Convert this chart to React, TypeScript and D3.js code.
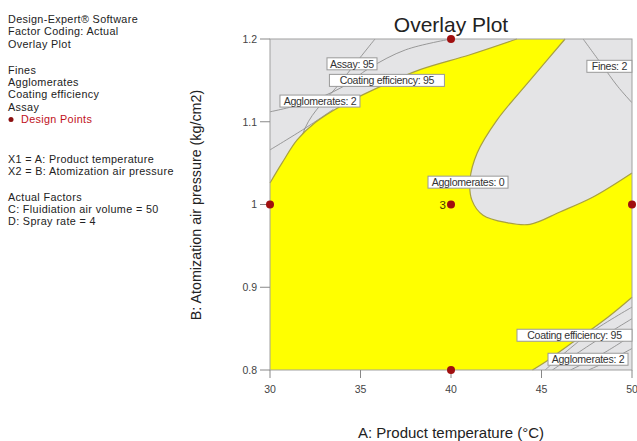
import React from 'react'
import * as d3 from 'd3'

// Overlay plot (Design-Expert style) - temperature vs atomization pressure

const xTicks = [30, 35, 40, 45, 50]
const yTicks = [0.8, 0.9, 1, 1.1, 1.2]

// yellow / grey boundaries, [temp, pressure]
const topLeftEdge = [
  [30, 1.026], [30.66, 1.05], [31.5, 1.078], [32.5, 1.099], [34, 1.12], [36.24, 1.144],
  [38.29, 1.163], [41.05, 1.181], [43.64, 1.2],
]
const ellipseEdge = [
  [46.3, 1.2], [44.36, 1.15], [42.54, 1.102], [41.44, 1.062], [41.05, 1.03],
  [41.16, 1.005], [41.77, 0.987], [43.09, 0.978], [44.36, 0.976], [46.02, 0.991],
  [47.85, 1.009], [50, 1.038],
]
const bottomRightEdge = [
  [44.5, 0.8], [45.5, 0.814], [46.5, 0.83], [47.5, 0.845], [48.5, 0.861], [49.3, 0.875], [50, 0.888],
]

// contour lines shown inside the grey (excluded) areas
const assayLine = [[31.2, 1.0], [31.93, 1.092], [33.87, 1.147], [35.8, 1.2]]
const agglomTopLine = [[30, 1.112], [32, 1.123], [34, 1.142], [35.5, 1.165], [37.5, 1.187], [40, 1.2]]
const extraTopLine = [[30, 1.066], [31.93, 1.092], [33.5, 1.115]]
const finesLine = [[47.3, 1.2], [48.3, 1.17], [49.2, 1.143], [50, 1.123]]
const brLine1 = [[45.2, 0.8], [47.5, 0.842], [50, 0.876]]
const brLine2 = [[45.6, 0.8], [48, 0.835], [50, 0.862]]
const brLine3 = [[46.6, 0.8], [48.4, 0.82], [50, 0.842]]
const brLine4 = [[47.6, 0.8], [48.8, 0.812], [50, 0.826]]

const contourLines = [assayLine, agglomTopLine, extraTopLine, finesLine, brLine1, brLine2, brLine3, brLine4]

const contourLabels = [
  { text: 'Assay: 95', t: 34.53, p: 1.17 },
  { text: 'Coating efficiency: 95', t: 36.46, p: 1.15 },
  { text: 'Agglomerates: 2', t: 32.76, p: 1.125 },
  { text: 'Fines: 2', t: 48.75, p: 1.167 },
  { text: 'Agglomerates: 0', t: 40.94, p: 1.027 },
  { text: 'Coating efficiency: 95', t: 46.9, p: 0.842 },
  { text: 'Agglomerates: 2', t: 47.57, p: 0.813 },
]

const designPoints = [
  [30, 1], [40, 1.2], [40, 1], [40, 0.8], [50, 1],
]

const infoLines = [
  { text: 'Design-Expert® Software', y: 22.5 },
  { text: 'Factor Coding: Actual', y: 35 },
  { text: 'Overlay Plot', y: 47.5 },
  { text: 'Fines', y: 73.5 },
  { text: 'Agglomerates', y: 85.5 },
  { text: 'Coating efficiency', y: 98 },
  { text: 'Assay', y: 110.5 },
  { text: 'X1 = A: Product temperature', y: 162.5 },
  { text: 'X2 = B: Atomization air pressure', y: 175 },
  { text: 'Actual Factors', y: 200.5 },
  { text: 'C: Fluidiation air volume = 50', y: 213 },
  { text: 'D: Spray rate = 4', y: 225 },
]

const W = 637
const H = 441
const left = 270, right = 632, top = 39, bottom = 370
const font = 'Arial, "Liberation Sans", sans-serif'

export default function App() {
  const x = d3.scaleLinear().domain([30, 50]).range([left, right])
  const y = d3.scaleLinear().domain([0.8, 1.2]).range([bottom, top])

  const curve = d3.line().x(d => x(d[0])).y(d => y(d[1])).curve(d3.curveCatmullRom)

  const tlPath = curve(topLeftEdge) + `L${x(30)},${y(1.2)}Z`
  const trPath = curve(ellipseEdge) + `L${x(50)},${y(1.2)}Z`
  const brPath = curve(bottomRightEdge) + `L${x(50)},${y(0.8)}Z`
  const greyPaths = [tlPath, trPath, brPath]

  return (
    <svg width={W} height={H} style={{ position: 'absolute', left: 0, top: 0, background: '#fff' }}>
      <defs>
        <clipPath id="greyClip">
          {greyPaths.map((d, i) => <path key={i} d={d} />)}
        </clipPath>
      </defs>

      {/* side info text */}
      <g fontFamily={font} fontSize={10.8} fill="#222" letterSpacing={0.35}>
        {infoLines.map((l, i) => (
          <text key={i} x={8} y={l.y}>{l.text}</text>
        ))}
        <circle cx={11} cy={119.5} r={2.5} fill="#8b1010" />
        <text x={21} y={123} fill="#c0101a">Design Points</text>
      </g>

      <text x={451} y={32} textAnchor="middle" fontFamily={font} fontSize={21} fill="#222">
        Overlay Plot
      </text>

      {/* plot area */}
      <rect x={left} y={top} width={right - left} height={bottom - top} fill="#ffff00" />
      {greyPaths.map((d, i) => (
        <path key={i} d={d} fill="#e4e4e6" />
      ))}
      <g clipPath="url(#greyClip)">
        {contourLines.map((c, i) => (
          <path key={i} d={curve(c)} fill="none" stroke="#8e8e8e" strokeWidth={0.9} />
        ))}
      </g>
      {[topLeftEdge, ellipseEdge, bottomRightEdge].map((c, i) => (
        <path key={i} d={curve(c)} fill="none" stroke="#a8a040" strokeWidth={1.2} />
      ))}
      <rect x={left} y={top} width={right - left} height={bottom - top} fill="none" stroke="#a0a0a0" strokeWidth={1} />

      {/* axes */}
      <g fontFamily={font} fontSize={10.5} fill="#444">
        {xTicks.map(t => (
          <g key={t}>
            <line x1={x(t)} x2={x(t)} y1={bottom} y2={bottom + 8} stroke="#888" />
            <text x={x(t)} y={bottom + 23} textAnchor="middle">{t}</text>
          </g>
        ))}
        {yTicks.map(t => (
          <g key={t}>
            <line x1={left - 10} x2={left} y1={y(t)} y2={y(t)} stroke="#888" />
            <text x={left - 13} y={y(t) + 3.8} textAnchor="end">{d3.format('~g')(t)}</text>
          </g>
        ))}
      </g>

      <text x={451} y={438} textAnchor="middle" fontFamily={font} fontSize={15} fill="#222">
        A: Product temperature (°C)
      </text>
      <text
        transform={`translate(201,205) rotate(-90)`}
        textAnchor="middle"
        fontFamily={font}
        fontSize={14.3}
        fill="#222"
      >
        B: Atomization air pressure (kg/cm2)
      </text>

      {/* contour labels */}
      <g fontFamily={font} fontSize={10.6} fill="#333">
        {contourLabels.map((l, i) => {
          const w = l.text.length * 5.0 + 5
          const cx = Math.min(x(l.t), right - w / 2)
          return (
            <g key={i}>
              <rect x={cx - w / 2} y={y(l.p) - 6} width={w} height={12} fill="#fff" stroke="#999" strokeWidth={1} />
              <text x={cx} y={y(l.p) + 4} textAnchor="middle" letterSpacing={-0.3}>{l.text}</text>
            </g>
          )
        })}
      </g>

      {/* design points */}
      {designPoints.map((d, i) => (
        <circle key={i} cx={x(d[0])} cy={y(d[1])} r={4} fill="#a00f0f" />
      ))}
      <text x={x(40) - 5} y={y(1) + 4} textAnchor="end" fontFamily={font} fontSize={11.5} fill="#4a3a00">3</text>
    </svg>
  )
}
